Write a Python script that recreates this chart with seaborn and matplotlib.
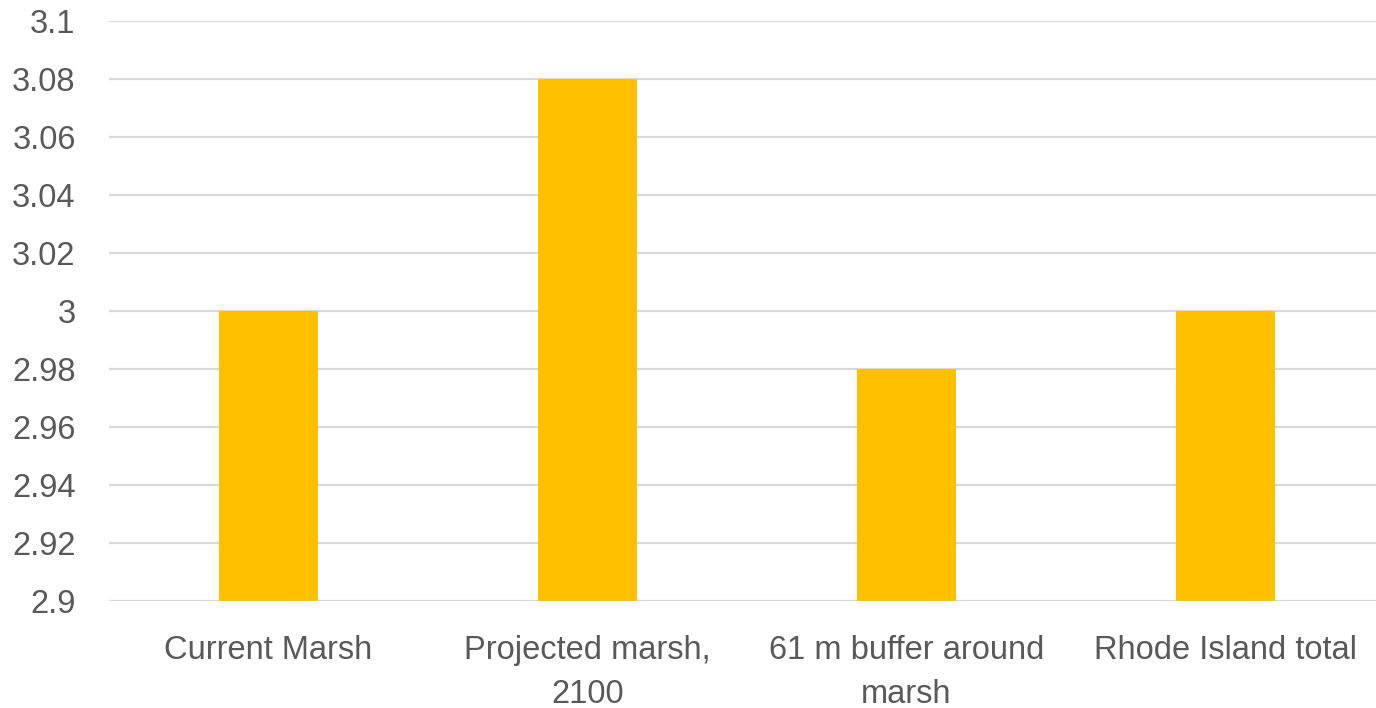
import matplotlib
matplotlib.use("Agg")
import matplotlib.pyplot as plt
import seaborn as sns
import pandas as pd
from matplotlib.ticker import FuncFormatter, MultipleLocator

categories = ["Current Marsh", "Projected marsh,\n2100", "61 m buffer around\nmarsh", "Rhode Island total"]
values = [3.00, 3.08, 2.98, 3.00]
y_min, y_max, y_step = 2.9, 3.1, 0.02

df = pd.DataFrame({"category": categories, "value": values})

sns.set_theme(style="white")
plt.rcParams["font.family"] = ["Liberation Sans", "DejaVu Sans"]

W, H = 1376, 708
fig = plt.figure(figsize=(W / 100, H / 100), dpi=100)
left, right, top, bottom = 109, 1385, 21, 601
ax = fig.add_axes([left / W, 1 - bottom / H, (right - left) / W, (bottom - top) / H])

sns.barplot(data=df, x="category", y="value", color="#FFC000", saturation=1,
            width=0.313, linewidth=0, ax=ax, zorder=3)

ax.set_ylim(y_min, y_max)
ax.set_xlim(-0.5, len(categories) - 0.5)
ax.yaxis.set_major_locator(MultipleLocator(y_step))
ax.yaxis.set_major_formatter(FuncFormatter(lambda v, _: f"{round(v, 2):g}"))
ax.grid(axis="y", color="#D9D9D9", linewidth=1.6, zorder=0)
ax.set_axisbelow(True)
for s in ax.spines.values():
    s.set_visible(False)
ax.set_xlabel("")
ax.set_ylabel("")
ax.tick_params(axis="both", length=0, colors="#595959", labelsize=23.5)
ax.tick_params(axis="y", pad=24)
ax.tick_params(axis="x", pad=24.5)
for t in ax.get_xticklabels():
    t.set_linespacing(1.55)

fig.savefig("out.png", dpi=100, facecolor="white")
